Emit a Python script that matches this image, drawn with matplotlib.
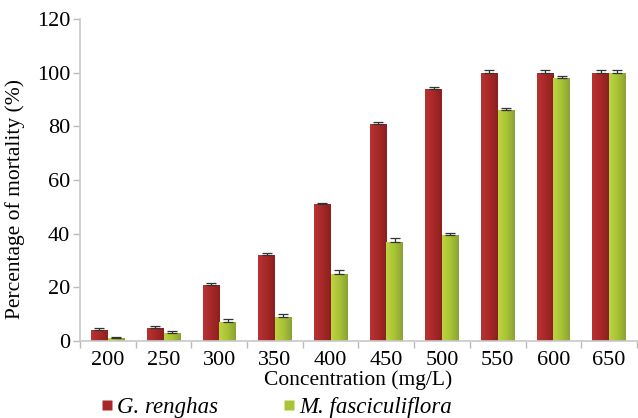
import numpy as np
import matplotlib
matplotlib.use("Agg")
import matplotlib.pyplot as plt
from matplotlib.colors import LinearSegmentedColormap
from matplotlib.lines import Line2D

categories = ["200", "250", "300", "350", "400", "450", "500", "550", "600", "650"]
g_renghas = [4, 5, 21, 32, 51, 81, 94, 100, 100, 100]
m_fasc = [1, 3, 7, 9, 25, 37, 39.5, 86, 98, 100]
g_err = [0.7, 0.8, 0.8, 0.7, 0.5, 0.4, 0.5, 0.8, 0.8, 0.8]
m_err = [0.6, 0.6, 1.2, 1.2, 1.3, 1.3, 0.7, 0.8, 0.8, 0.8]
yticks = [0, 20, 40, 60, 80, 100, 120]

plt.rcParams['font.family'] = ['Liberation Serif', 'DejaVu Serif']

fig = plt.figure(figsize=(6.38, 4.18), dpi=100)
ax = fig.add_axes([0.1254, 0.184, 0.8730, 0.771])

x = np.arange(len(categories))
w = 0.30

red_cmap = LinearSegmentedColormap.from_list("r", ["#b83232", "#a82828", "#8c1f1f"])
grn_cmap = LinearSegmentedColormap.from_list("g", ["#bcd442", "#a9c435", "#8aa234"])

def grad_bars(xpos, vals, cmap):
    bars = ax.bar(xpos, vals, width=w, color="none", edgecolor="none", zorder=2)
    grad = np.linspace(0, 1, 64).reshape(1, -1)
    for b in bars:
        x0, y0 = b.get_x(), b.get_y()
        im = ax.imshow(grad, cmap=cmap, extent=[x0, x0 + b.get_width(), y0, y0 + b.get_height()],
                       aspect='auto', zorder=2, interpolation='bilinear')
        im.set_clip_path(b)
    return bars

grad_bars(x - w / 2, g_renghas, red_cmap)
grad_bars(x + w / 2, m_fasc, grn_cmap)

ax.errorbar(x - w / 2, g_renghas, yerr=[np.zeros(len(g_err)), g_err], fmt='none',
            ecolor="#333333", elinewidth=0.9, capsize=3.5, capthick=0.9, zorder=3)
ax.errorbar(x + w / 2, m_fasc, yerr=[np.zeros(len(m_err)), m_err], fmt='none',
            ecolor="#333333", elinewidth=0.9, capsize=3.5, capthick=0.9, zorder=3)

ax.set_xlim(-0.5, len(categories) - 0.5)
ax.set_ylim(0, 120)
ax.set_yticks(yticks)
ax.set_yticklabels([str(v) for v in yticks], fontsize=16)
ax.set_xticks(x)
ax.set_xticklabels(categories, fontsize=16)
ax.set_xticks(np.arange(len(categories) + 1) - 0.5, minor=True)
ax.tick_params(axis='x', which='major', length=0, pad=7)
ax.tick_params(axis='x', which='minor', length=5, color="#bbbbbb", width=1)
ax.tick_params(axis='y', length=5, color="#bbbbbb", width=1, pad=2)

for s in ["top", "right"]:
    ax.spines[s].set_visible(False)
ax.spines["left"].set_color("#c8c8c8")
ax.spines["bottom"].set_color("#c8c8c8")
ax.spines["left"].set_linewidth(1.2)
ax.spines["bottom"].set_linewidth(1.2)

ax.set_ylabel("Percentage of mortality (%)", fontsize=15.5)
ax.yaxis.set_label_coords(-0.098, 0.44)
ax.set_xlabel("Concentration (mg/L)", fontsize=15.5, labelpad=0)

handles = [Line2D([], [], marker='s', color='none', markerfacecolor="#a82828",
                  markeredgecolor='none', markersize=7),
           Line2D([], [], marker='s', color='none', markerfacecolor="#a9c435",
                  markeredgecolor='none', markersize=7)]
leg = fig.legend(handles, ["G. renghas", "M. fasciculiflora"], loc='center',
                 bbox_to_anchor=(0.433, 0.026), ncol=2, frameon=False,
                 prop={'style': 'italic', 'size': 16.5}, handlelength=0.6,
                 handletextpad=0.15, columnspacing=2.8, borderpad=0)

fig.savefig("out.png", dpi=100)
